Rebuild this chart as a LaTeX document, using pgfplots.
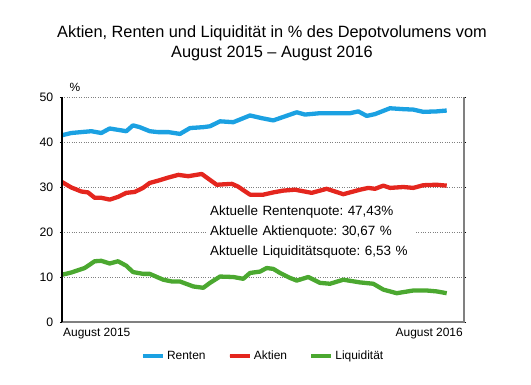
\documentclass[border=0pt]{standalone}
\usepackage{pgfplots}
\pgfplotsset{compat=1.18}
\usepackage{fontspec}
\setmainfont{Liberation Sans}
\frenchspacing
\definecolor{cRenten}{RGB}{27,161,226}
\definecolor{cAktien}{RGB}{228,38,30}
\definecolor{cLiq}{RGB}{75,168,48}
\definecolor{axgray}{RGB}{128,128,128}
\begin{document}
\begin{tikzpicture}[x=1bp,y=1bp]
\useasboundingbox (-62,-62) rectangle (469,322);
\node[align=center, font=\fontsize{16.4}{20}\selectfont] at (210,279) {Aktien, Renten und Liquidität in \% des Depotvolumens vom\\August 2015 – August 2016};
\begin{axis}[at={(0,0)}, anchor=south west, scale only axis,
  width=402bp, height=225bp,
  xmin=62, xmax=464, ymin=0, ymax=50,
  ytick={0,10,...,50}, xtick=\empty,
  ymajorgrids, grid style={axgray, dotted, line width=0.9bp},
  axis line style={draw=none},
  tick align=outside, major tick length=2bp, tick style={black, line width=0.6bp},
  /pgf/number format/assume math mode=true,
  yticklabel style={font=\fontsize{12.3}{14}\selectfont, inner sep=0pt, xshift=-6.5bp},
  legend style={at={(0.5,-0.151)}, anchor=center, draw=none, legend columns=3,
    font=\fontsize{12}{14}\selectfont,
    /tikz/every even column/.append style={column sep=20bp}},
  legend image code/.code={\path (0bp,0bp) -- (20bp,0bp);\draw[#1, line width=4.5bp, line cap=round] (2.25bp,0bp) -- (15.75bp,0bp);},
  clip=false,
]
\node[anchor=west, fill=white, inner xsep=2bp, inner ysep=1bp, text width=204bp, align=left,
  font=\fontsize{13.5}{20.5}\selectfont] at (axis cs:208,20) {Aktuelle Rentenquote: 47,43\%\\Aktuelle Aktienquote: 30,67 \%\\Aktuelle Liquiditätsquote: 6,53 \%};
\addplot[cRenten, line width=4.3bp, line join=round] coordinates {
(62,41.5) (71.3,42.0) (81.3,42.2) (91.3,42.4) (101.3,42.0) (109.7,43.0) (118,42.7) (126.3,42.4)
(133,43.7) (139.7,43.3) (149.7,42.4) (158,42.2) (168.3,42.2) (180,41.8) (190,43.1) (203.3,43.3)
(210,43.5) (220,44.6) (233.3,44.4) (250,45.9) (261.7,45.3) (273.3,44.8) (285,45.7) (296.7,46.6)
(305,46.1) (320,46.4) (336.7,46.4) (350,46.4) (358.3,46.8) (366.7,45.8) (375,46.2) (390,47.5)
(403.3,47.3) (413.3,47.2) (423.3,46.7) (436.7,46.8) (446.7,47.0)};
\addlegendentry{Renten}
\addplot[cAktien, line width=4.3bp, line join=round] coordinates {
(62,31.1) (71.3,29.9) (81.3,29.0) (88,28.8) (94.7,27.6) (101.3,27.6) (109.7,27.2) (118,27.8)
(126.3,28.7) (134.7,28.9) (143,29.8) (149.7,30.9) (158,31.4) (168.3,32.1) (178.3,32.7) (188.3,32.4)
(201.7,32.9) (216.7,30.5) (224,30.6) (232,30.7) (238,30.1) (250,28.3) (263.3,28.3) (273.3,28.8)
(283.3,29.2) (295,29.4) (311.7,28.7) (326.7,29.6) (343.3,28.4) (360,29.4) (368.3,29.8) (375,29.6)
(383.3,30.3) (390,29.8) (403.3,30.0) (413.3,29.8) (423.3,30.4) (436.7,30.5) (446.7,30.3)};
\addlegendentry{Aktien}
\addplot[cLiq, line width=4.3bp, line join=round] coordinates {
(62,10.5) (71.3,11.0) (84.7,12.0) (94.7,13.5) (101.3,13.6) (109.7,13.0) (118,13.5) (126.3,12.5)
(133,11.1) (143,10.7) (149.7,10.7) (158,9.9) (163.3,9.4) (172,9.0) (180,9.0) (193.3,7.9)
(203.3,7.6) (210,8.7) (220,10.1) (233.3,10.0) (243.3,9.6) (250,10.9) (260,11.2) (266.7,12.0)
(273.3,11.8) (280,10.9) (290,9.8) (296.7,9.2) (308.3,10.0) (320,8.7) (330,8.5) (343.3,9.4)
(360,8.8) (373.3,8.5) (383.3,7.2) (396.7,6.4) (413.3,7.0) (426.7,7.0) (436.7,6.8) (446.7,6.4)};
\addlegendentry{Liquidität}
\draw[axgray, line width=1.5bp] (axis cs:62,0) -- (axis cs:464,0) -- (axis cs:464,50);
\draw[black, line width=1.2bp] (axis cs:62,0) -- (axis cs:62,50);
\node[anchor=base west, inner sep=0pt, font=\fontsize{12}{14}\selectfont] at (axis cs:63,0) [yshift=-14bp] {August 2015};
\node[anchor=base east, inner sep=0pt, font=\fontsize{12}{14}\selectfont] at (axis cs:463,0) [yshift=-14bp] {August 2016};
\node[inner sep=0pt, font=\fontsize{12}{14}\selectfont] at (axis cs:75,52.2) {\%};
\end{axis}
\end{tikzpicture}
\end{document}
